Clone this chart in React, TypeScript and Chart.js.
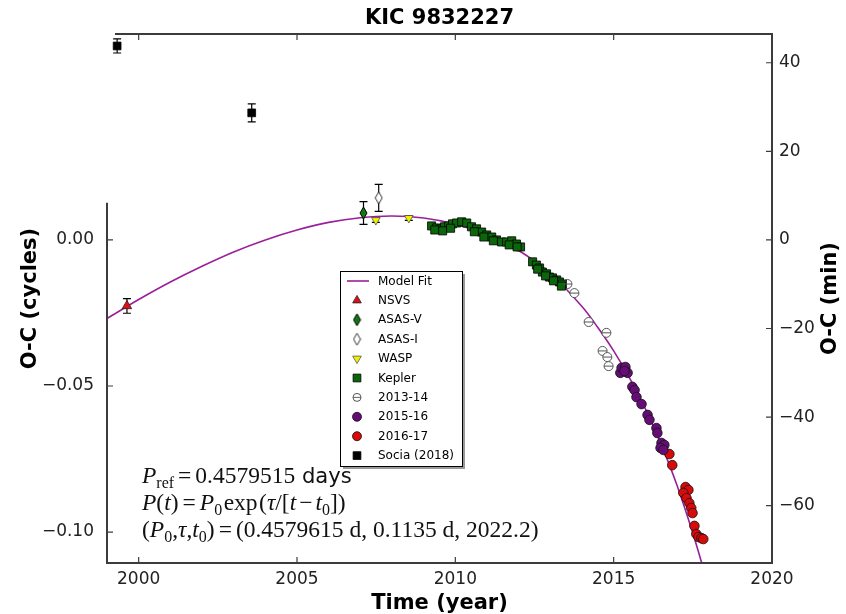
import React, { useEffect, useRef } from 'react';
import { Chart, registerables } from 'chart.js';
import { drawPoint } from 'chart.js/helpers';

Chart.register(...registerables);

// ---------------- text ----------------
const TITLE = 'KIC 9832227';
const X_LABEL = 'Time (year)';
const Y_LABEL = 'O-C (cycles)';
const Y2_LABEL = 'O-C (min)';
const P_REF_TEXT = '0.4579515';
const FIT_P0 = '0.4579615';
const FIT_TAU = '0.1135';
const FIT_T0 = '2022.2';

// ---------------- axes ----------------
const P_REF_DAYS = 0.4579515;
const MIN_PER_CYCLE = P_REF_DAYS * 1440;
const X_RANGE = [1999.0, 2020.0];
const Y_RANGE = [-0.1106, 0.0705];
const LEFT_SPINE_TOP = 0.0127;
const X_TICKS = [2000, 2005, 2010, 2015, 2020];
const Y_TICKS = [0.0, -0.05, -0.1];
const Y2_TICKS = [40, 20, 0, -20, -40, -60];

// ---------------- model fit ----------------
const MODEL_T = [1999.0, 2000, 2001, 2002, 2003, 2004, 2005, 2006, 2007, 2008, 2009, 2010, 2011, 2012, 2013, 2014, 2014.5, 2015, 2015.5, 2016, 2016.5, 2017, 2017.5, 2017.9];
const MODEL_OC = [-0.0269, -0.0204, -0.0144, -0.009, -0.0041, 0.0, 0.0034, 0.006, 0.0076, 0.0082, 0.0075, 0.0054, 0.0018, -0.0036, -0.0115, -0.0228, -0.03, -0.038, -0.0472, -0.0578, -0.07, -0.084, -0.1004, -0.115];

// ---------------- observations ----------------
const NSVS_T = [1999.63];
const NSVS_OC = [-0.0226];
const NSVS_ERR = [0.0025];

const ASASV_T = [2007.1];
const ASASV_OC = [0.0092];
const ASASV_ERR = [0.0039];

const ASASI_T = [2007.58];
const ASASI_OC = [0.0144];
const ASASI_ERR = [0.0046];

const WASP_T = [2007.49, 2008.53];
const WASP_OC = [0.0068, 0.0075];
const WASP_ERR = [0.0008, 0.0008];

const KEPLER_T = [2009.25, 2009.41, 2009.54, 2009.66, 2009.79, 2009.91, 2010.04, 2009.35, 2009.6, 2009.85,
  2010.2, 2010.36, 2010.51, 2010.67, 2010.83, 2010.99, 2011.15, 2011.3, 2011.46, 2011.62, 2011.78, 2011.93, 2012.06,
  2010.6, 2010.9, 2011.2, 2011.7, 2011.95,
  2012.44, 2012.56, 2012.66, 2012.75, 2012.88, 2012.97, 2013.07, 2013.2, 2013.29, 2013.38,
  2012.6, 2012.85, 2013.1, 2013.35];
const KEPLER_OC = [0.0048, 0.0041, 0.0038, 0.0045, 0.0048, 0.0055, 0.0058, 0.0034, 0.0031, 0.004,
  0.0062, 0.0058, 0.0045, 0.0038, 0.0027, 0.0017, 0.001, 0.0, -0.0007, -0.0007, -0.0003, -0.0014, -0.0024,
  0.0028, 0.001, -0.0003, -0.0017, -0.0024,
  -0.0075, -0.0086, -0.0096, -0.011, -0.0116, -0.0127, -0.013, -0.0137, -0.0144, -0.0151,
  -0.01, -0.0123, -0.014, -0.0158];

const OBS1314_T = [2013.54, 2013.76, 2014.21, 2014.77, 2014.65, 2014.8, 2014.84];
const OBS1314_OC = [-0.0151, -0.0182, -0.0281, -0.0318, -0.038, -0.0401, -0.0432];

const OBS1516_T = [2015.21, 2015.25, 2015.37, 2015.44, 2015.34, 2015.59, 2015.66, 2015.72, 2015.88, 2016.07, 2016.13, 2016.35, 2016.38, 2016.51, 2016.6, 2016.48, 2016.57];
const OBS1516_OC = [-0.0455, -0.0438, -0.0435, -0.0455, -0.0449, -0.0503, -0.0514, -0.0538, -0.0562, -0.0599, -0.0616, -0.0644, -0.0661, -0.0695, -0.0702, -0.0712, -0.0719];

const OBS1617_T = [2016.76, 2016.85, 2017.27, 2017.36, 2017.2, 2017.3, 2017.39, 2017.45, 2017.49, 2017.55, 2017.61, 2017.68, 2017.77, 2017.83];
const OBS1617_OC = [-0.0733, -0.0771, -0.0846, -0.0856, -0.0866, -0.0884, -0.0901, -0.0918, -0.0935, -0.0979, -0.1007, -0.1017, -0.1021, -0.1024];

const SOCIA_T = [1999.32, 2003.57];
const SOCIA_OC = [0.0664, 0.0435];
const SOCIA_ERR = [0.0024, 0.0031];

const pts = (xs: number[], ys: number[]) => xs.map((x, i) => ({ x, y: ys[i] }));

const SERIF = '"Liberation Serif", "DejaVu Serif", serif';
const SANS = '"DejaVu Sans", sans-serif';
const SPINE = '#3c3c3c';

type Run = { t: string; f?: 'it' | 'rm' | 'sf'; sub?: boolean; gap?: number };

function drawRuns(ctx: CanvasRenderingContext2D, runs: Run[], x0: number, y: number, size: number) {
  let x = x0;
  for (const r of runs) {
    const fs = r.sub ? size * 0.68 : r.f === 'sf' ? size * 0.9 : size;
    const fam = r.f === 'sf' ? SANS : SERIF;
    ctx.font = `${r.f === 'it' ? 'italic ' : ''}${fs}px ${fam}`;
    const g = r.gap ?? 0;
    x += g;
    ctx.fillText(r.t, x, r.sub ? y + size * 0.22 : y);
    x += ctx.measureText(r.t).width + g;
  }
}

function fmtCycles(v: number) {
  const s = Math.abs(v) < 1e-9 ? '0.00' : v.toFixed(2);
  return s.replace('-', '\u2212');
}

function makeDiamond(fill: string, stroke: string, w: number, h: number) {
  const c = document.createElement('canvas');
  c.width = w + 2;
  c.height = h + 2;
  const g = c.getContext('2d')!;
  g.beginPath();
  g.moveTo(c.width / 2, 1);
  g.lineTo(c.width - 1, c.height / 2);
  g.lineTo(c.width / 2, c.height - 1);
  g.lineTo(1, c.height / 2);
  g.closePath();
  g.fillStyle = fill;
  g.fill();
  g.strokeStyle = stroke;
  g.lineWidth = 1;
  g.stroke();
  return c;
}

const overlayPlugin = {
  id: 'overlay',
  beforeDatasetsDraw(chart: any) {
    const { ctx } = chart;
    const xs = chart.scales.x;
    const ys = chart.scales.y;
    ctx.save();
    ctx.strokeStyle = '#000';
    ctx.lineWidth = 1.2;
    chart.data.datasets.forEach((ds: any) => {
      if (!ds.yErr) return;
      ds.data.forEach((p: any, i: number) => {
        const e = ds.yErr[i];
        const px = xs.getPixelForValue(p.x);
        const y1 = ys.getPixelForValue(p.y + e);
        const y2 = ys.getPixelForValue(p.y - e);
        ctx.beginPath();
        ctx.moveTo(px, y1); ctx.lineTo(px, y2);
        ctx.moveTo(px - 4, y1); ctx.lineTo(px + 4, y1);
        ctx.moveTo(px - 4, y2); ctx.lineTo(px + 4, y2);
        ctx.stroke();
      });
    });
    ctx.restore();
  },
  afterDatasetsDraw(chart: any) {
    const { ctx } = chart;
    const xs = chart.scales.x;
    const ys = chart.scales.y;
    ctx.save();
    ctx.strokeStyle = '#555';
    ctx.lineWidth = 1;
    chart.data.datasets.forEach((ds: any) => {
      if (!ds.hBar) return;
      ds.data.forEach((p: any) => {
        const px = xs.getPixelForValue(p.x);
        const py = ys.getPixelForValue(p.y);
        const r = ds.pointRadius;
        ctx.beginPath();
        ctx.moveTo(px - r, py); ctx.lineTo(px + r, py);
        ctx.stroke();
      });
    });
    ctx.restore();
  },
  afterDraw(chart: any) {
    const { ctx, chartArea: ca } = chart;
    const xs = chart.scales.x;
    const ys = chart.scales.y;
    const y2s = chart.scales.y2;
    ctx.save();
    // spines
    ctx.strokeStyle = SPINE;
    ctx.lineWidth = 2;
    const spineTop = ys.getPixelForValue(LEFT_SPINE_TOP);
    ctx.beginPath();
    ctx.moveTo(ca.left + 8, ca.top); ctx.lineTo(ca.right, ca.top);
    ctx.lineTo(ca.right, ca.bottom); ctx.lineTo(ca.left, ca.bottom);
    ctx.lineTo(ca.left, spineTop);
    ctx.stroke();
    // inward ticks
    ctx.lineWidth = 1.2;
    const TL = 6;
    ctx.beginPath();
    X_TICKS.forEach((v) => {
      const px = xs.getPixelForValue(v);
      if (px >= ca.right - 1) return;
      ctx.moveTo(px, ca.bottom); ctx.lineTo(px, ca.bottom - TL);
      ctx.moveTo(px, ca.top); ctx.lineTo(px, ca.top + TL);
    });
    Y_TICKS.forEach((v) => {
      const py = ys.getPixelForValue(v);
      ctx.moveTo(ca.left, py); ctx.lineTo(ca.left + TL, py);
    });
    Y2_TICKS.forEach((v) => {
      const py = y2s.getPixelForValue(v);
      ctx.moveTo(ca.right, py); ctx.lineTo(ca.right - TL, py);
    });
    ctx.stroke();

    // title
    ctx.fillStyle = '#000';
    ctx.textAlign = 'center';
    ctx.textBaseline = 'middle';
    ctx.font = `bold 21px ${SANS}`;
    ctx.fillText(TITLE, (ca.left + ca.right) / 2, 19);

    // right axis title (reads bottom to top)
    ctx.save();
    ctx.translate(831, (ca.top + ca.bottom) / 2);
    ctx.rotate(-Math.PI / 2);
    ctx.font = `bold 21px ${SANS}`;
    ctx.fillText(Y2_LABEL, 0, 0);
    ctx.restore();

    // legend
    const items = chart.data.datasets.filter((d: any) => d.label);
    const LX = 340, LY = 271, LW = 122, ROW = 19.4;
    const LH = items.length * ROW + 1;
    ctx.fillStyle = 'rgba(0,0,0,0.4)';
    ctx.fillRect(LX + 3, LY + 3, LW, LH);
    ctx.fillStyle = '#fff';
    ctx.fillRect(LX, LY, LW, LH);
    ctx.strokeStyle = '#000';
    ctx.lineWidth = 1;
    ctx.strokeRect(LX + 0.5, LY + 0.5, LW, LH);
    items.forEach((d: any, i: number) => {
      const cy = LY + 10 + i * ROW;
      const cx = LX + 17;
      if (d.showLine) {
        ctx.strokeStyle = d.borderColor;
        ctx.lineWidth = d.borderWidth;
        ctx.beginPath();
        ctx.moveTo(cx - 10, cy); ctx.lineTo(cx + 12, cy);
        ctx.stroke();
      } else {
        ctx.fillStyle = d.backgroundColor;
        ctx.strokeStyle = d.borderColor;
        ctx.lineWidth = d.borderWidth;
        drawPoint(ctx, {
          pointStyle: d.pointStyle,
          rotation: d.pointRotation || 0,
          radius: d.legendRadius,
          borderWidth: d.borderWidth,
        } as any, cx, cy);
        if (d.hBar) {
          ctx.strokeStyle = '#555';
          ctx.beginPath();
          ctx.moveTo(cx - d.legendRadius, cy); ctx.lineTo(cx + d.legendRadius, cy);
          ctx.stroke();
        }
      }
      ctx.fillStyle = '#000';
      ctx.textAlign = 'left';
      ctx.textBaseline = 'middle';
      ctx.font = `12px ${SANS}`;
      ctx.fillText(d.label, LX + 38, cy + 0.5);
    });

    // annotation
    ctx.fillStyle = '#111';
    ctx.textAlign = 'left';
    ctx.textBaseline = 'alphabetic';
    const AX = ca.left + 35;
    const SZ = 23.5;
    const L1: Run[] = [{ t: 'P', f: 'it' }, { t: 'ref', sub: true }, { t: '=', gap: 4 }, { t: P_REF_TEXT }, { t: ' days', f: 'sf' }];
    const L2: Run[] = [{ t: 'P', f: 'it' }, { t: '(' }, { t: 't', f: 'it' }, { t: ')' }, { t: '=', gap: 4 }, { t: 'P', f: 'it' }, { t: '0', sub: true }, { t: 'exp', gap: 1.5 }, { t: '(' }, { t: '\u03c4', f: 'it' }, { t: '/[' }, { t: 't', f: 'it' }, { t: '\u2212', gap: 3 }, { t: 't', f: 'it' }, { t: '0', sub: true }, { t: '])' }];
    const L3: Run[] = [{ t: '(' }, { t: 'P', f: 'it' }, { t: '0', sub: true }, { t: ',' }, { t: '\u03c4', f: 'it' }, { t: ',' }, { t: 't', f: 'it' }, { t: '0', sub: true }, { t: ')' }, { t: '=', gap: 4 }, { t: `(${FIT_P0} d, ${FIT_TAU} d, ${FIT_T0})` }];
    drawRuns(ctx, L1, AX, 483, SZ);
    drawRuns(ctx, L2, AX, 510, SZ);
    drawRuns(ctx, L3, AX, 537, SZ);
    ctx.restore();
  },
};

export default function App() {
  const ref = useRef<HTMLCanvasElement>(null);
  useEffect(() => {
    if (!ref.current) return;
    const dGreen = makeDiamond('#127a12', '#000', 7, 12);
    const dWhite = makeDiamond('#ffffff', '#333', 7, 12);
    const tickFont = { family: SANS, size: 17 };
    const chart = new Chart(ref.current, {
      type: 'scatter',
      data: {
        datasets: [
          { label: 'Model Fit', data: pts(MODEL_T, MODEL_OC), showLine: true, pointRadius: 0, borderColor: '#9a1f9a', backgroundColor: '#9a1f9a', borderWidth: 1.6, tension: 0.35, order: 10 },
          { label: 'NSVS', data: pts(NSVS_T, NSVS_OC), yErr: NSVS_ERR, pointStyle: 'triangle', pointRadius: 5.5, legendRadius: 5, backgroundColor: '#e01010', borderColor: '#222', borderWidth: 0.8 },
          { label: 'ASAS-V', data: pts(ASASV_T, ASASV_OC), yErr: ASASV_ERR, pointStyle: dGreen, pointRadius: 6, legendRadius: 6, backgroundColor: '#127a12', borderColor: '#000', borderWidth: 0.8 },
          { label: 'ASAS-I', data: pts(ASASI_T, ASASI_OC), yErr: ASASI_ERR, pointStyle: dWhite, pointRadius: 6, legendRadius: 6, backgroundColor: '#fff', borderColor: '#333', borderWidth: 0.8 },
          { label: 'WASP', data: pts(WASP_T, WASP_OC), yErr: WASP_ERR, pointStyle: 'triangle', pointRotation: 180, pointRadius: 5, legendRadius: 5, backgroundColor: '#f0f000', borderColor: '#555', borderWidth: 0.8 },
          { label: 'Kepler', data: pts(KEPLER_T, KEPLER_OC), pointStyle: 'rect', pointRadius: 5.7, legendRadius: 5.5, backgroundColor: '#0b660b', borderColor: '#000', borderWidth: 0.8 },
          { label: '2013-14', data: pts(OBS1314_T, OBS1314_OC), hBar: true, pointStyle: 'circle', pointRadius: 4.5, legendRadius: 4, backgroundColor: '#fff', borderColor: '#444', borderWidth: 0.9 },
          { label: '2015-16', data: pts(OBS1516_T, OBS1516_OC), pointStyle: 'circle', pointRadius: 4.8, legendRadius: 4.5, backgroundColor: '#650c76', borderColor: '#111', borderWidth: 0.8 },
          { label: '2016-17', data: pts(OBS1617_T, OBS1617_OC), pointStyle: 'circle', pointRadius: 4.8, legendRadius: 4.5, backgroundColor: '#d80a0a', borderColor: '#111', borderWidth: 0.8 },
          { label: 'Socia (2018)', data: pts(SOCIA_T, SOCIA_OC), yErr: SOCIA_ERR, pointStyle: 'rect', pointRadius: 5.5, legendRadius: 5.5, backgroundColor: '#000', borderColor: '#000', borderWidth: 0.8 },
        ] as any,
      },
      options: {
        animation: false,
        responsive: false,
        devicePixelRatio: 1,
        events: [],
        layout: { padding: { top: 34, left: 0, right: 0, bottom: 0 } },
        plugins: { legend: { display: false }, tooltip: { enabled: false }, title: { display: false } },
        scales: {
          x: {
            type: 'linear',
            position: 'bottom',
            min: X_RANGE[0],
            max: X_RANGE[1],
            grid: { display: false, drawTicks: false },
            border: { display: false },
            afterBuildTicks: (s: any) => { s.ticks = X_TICKS.map((v) => ({ value: v })); },
            afterFit: (s: any) => { s.height = 51; },
            ticks: { font: tickFont, color: '#222', padding: 6, maxRotation: 0, autoSkip: false, callback: (v: any) => String(v) },
            title: { display: true, text: X_LABEL, color: '#000', font: { family: SANS, size: 21, weight: 'bold', lineHeight: 1 }, padding: { top: 0, bottom: 0 } },
          },
          y: {
            type: 'linear',
            position: 'left',
            min: Y_RANGE[0],
            max: Y_RANGE[1],
            grid: { display: false, drawTicks: false },
            border: { display: false },
            afterBuildTicks: (s: any) => { s.ticks = Y_TICKS.map((v) => ({ value: v })); },
            afterFit: (s: any) => { s.width = 107; },
            ticks: { font: tickFont, color: '#222', padding: 13, callback: (v: any) => fmtCycles(Number(v)) },
            title: { display: true, text: Y_LABEL, color: '#000', font: { family: SANS, size: 21, weight: 'bold', lineHeight: 1 }, padding: { top: 20, bottom: 0 } },
          },
          y2: {
            type: 'linear',
            position: 'right',
            min: Y_RANGE[0] * MIN_PER_CYCLE,
            max: Y_RANGE[1] * MIN_PER_CYCLE,
            grid: { display: false, drawTicks: false },
            border: { display: false },
            afterBuildTicks: (s: any) => { s.ticks = Y2_TICKS.map((v) => ({ value: v })); },
            afterFit: (s: any) => { s.width = 74; },
            ticks: { font: tickFont, color: '#222', padding: 7, callback: (v: any) => String(v).replace('-', '\u2212') },
          },
        },
      } as any,
      plugins: [overlayPlugin],
    });
    return () => chart.destroy();
  }, []);
  return (
    <div style={{ position: 'fixed', left: 0, top: 0, width: 846, height: 614, background: '#fff' }}>
      <canvas ref={ref} width={846} height={614} style={{ display: 'block', width: 846, height: 614 }} />
    </div>
  );
}
